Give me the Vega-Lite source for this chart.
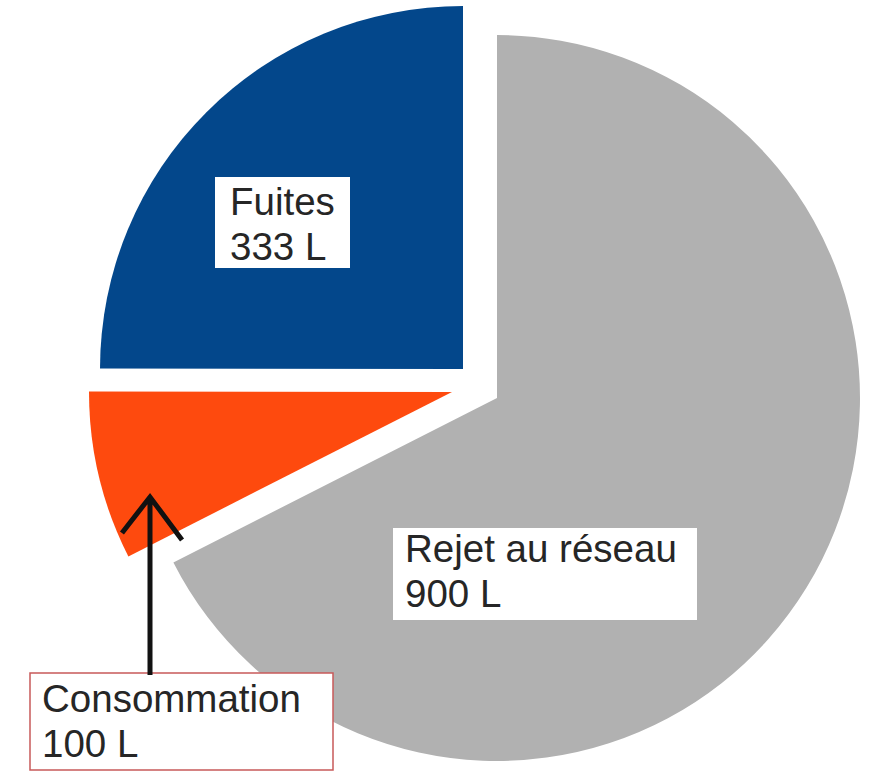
{
  "$schema": "https://vega.github.io/schema/vega-lite/v6.json",
  "width": 726,
  "height": 726,
  "autosize": {"type": "none"},
  "padding": {"left": 134, "top": 35, "right": 14, "bottom": 11},
  "background": "white",
  "config": {"view": {"stroke": null}},
  "data": {
    "values": [
      {"categorie": "Rejet au réseau", "litres": 900, "ordre": 1, "etiquette": "Rejet au réseau\n900 L"},
      {"categorie": "Consommation", "litres": 100, "ordre": 2, "etiquette": "Consommation\n100 L"},
      {"categorie": "Fuites", "litres": 333, "ordre": 3, "etiquette": "Fuites\n333 L"}
    ]
  },
  "transform": [
    {"stack": "litres", "groupby": [], "sort": [{"field": "ordre", "order": "ascending"}], "as": ["t0", "t1"]}
  ],
  "encoding": {
    "color": {
      "field": "categorie",
      "type": "nominal",
      "scale": {"domain": ["Rejet au réseau", "Consommation", "Fuites"], "range": ["#b1b1b1", "#fe4a0e", "#03478b"]},
      "legend": null
    }
  },
  "resolve": {"scale": {"theta": "shared"}},
  "layer": [
    {
      "transform": [{"filter": "datum.categorie === 'Rejet au réseau'"}],
      "mark": {"type": "arc", "stroke": null},
      "encoding": {
        "theta": {"field": "t0", "type": "quantitative", "scale": {"domain": [0, 1333]}},
        "theta2": {"field": "t1"}
      }
    },
    {
      "transform": [{"filter": "datum.categorie === 'Consommation'"}],
      "mark": {"type": "arc", "stroke": null, "xOffset": -45, "yOffset": -6},
      "encoding": {
        "theta": {"field": "t0", "type": "quantitative", "scale": {"domain": [0, 1333]}},
        "theta2": {"field": "t1"}
      }
    },
    {
      "transform": [{"filter": "datum.categorie === 'Fuites'"}],
      "mark": {"type": "arc", "stroke": null, "xOffset": -34, "yOffset": -29},
      "encoding": {
        "theta": {"field": "t0", "type": "quantitative", "scale": {"domain": [0, 1333]}},
        "theta2": {"field": "t1"}
      }
    },
    {
      "transform": [{"filter": "datum.categorie === 'Fuites'"}],
      "mark": {"type": "point", "filled": true, "opacity": 1, "fill": "white", "stroke": null, "shape": "M-1,-0.674L1,-0.674L1,0.674L-1,0.674Z", "size": 18225, "xOffset": -214.5, "yOffset": -175.5},
      "encoding": {"color": {"value": "white"}}
    },
    {
      "transform": [{"filter": "datum.categorie === 'Rejet au réseau'"}],
      "mark": {"type": "point", "filled": true, "opacity": 1, "fill": "white", "stroke": null, "shape": "M-1,-0.3026L1,-0.3026L1,0.3026L-1,0.3026Z", "size": 92416, "xOffset": 48, "yOffset": 176},
      "encoding": {"color": {"value": "white"}}
    },
    {
      "transform": [{"filter": "datum.categorie === 'Consommation'"}],
      "mark": {"type": "point", "filled": true, "opacity": 1, "fill": "white", "stroke": "#c85a5a", "strokeWidth": 1.5, "shape": "M-1,-0.32L1,-0.32L1,0.32L-1,0.32Z", "size": 91809, "xOffset": -315.5, "yOffset": 323.5},
      "encoding": {"color": {"value": "white"}}
    },
    {
      "transform": [{"filter": "datum.categorie === 'Consommation'"}],
      "mark": {"type": "point", "filled": false, "opacity": 1, "fill": null, "stroke": "#111111", "strokeWidth": 5, "strokeCap": "butt", "strokeJoin": "miter", "shape": "M0,1L0,-1M-0.315,-0.596L0,-1L0.36,-0.517", "size": 31684, "xOffset": -347, "yOffset": 188},
      "encoding": {"color": {"value": "#111111"}}
    },
    {
      "transform": [{"filter": "datum.categorie === 'Fuites'"}],
      "mark": {"type": "text", "align": "left", "baseline": "alphabetic", "font": "Liberation Sans", "fontSize": 38.5, "lineHeight": 45, "lineBreak": "\n", "xOffset": -267, "yOffset": -183},
      "encoding": {"text": {"field": "etiquette"}, "color": {"value": "#262626"}}
    },
    {
      "transform": [{"filter": "datum.categorie === 'Rejet au réseau'"}],
      "mark": {"type": "text", "align": "left", "baseline": "alphabetic", "font": "Liberation Sans", "fontSize": 38.5, "lineHeight": 45, "lineBreak": "\n", "xOffset": -92, "yOffset": 164},
      "encoding": {"text": {"field": "etiquette"}, "color": {"value": "#262626"}}
    },
    {
      "transform": [{"filter": "datum.categorie === 'Consommation'"}],
      "mark": {"type": "text", "align": "left", "baseline": "alphabetic", "font": "Liberation Sans", "fontSize": 38.5, "lineHeight": 45, "lineBreak": "\n", "xOffset": -455, "yOffset": 314},
      "encoding": {"text": {"field": "etiquette"}, "color": {"value": "#262626"}}
    }
  ]
}
